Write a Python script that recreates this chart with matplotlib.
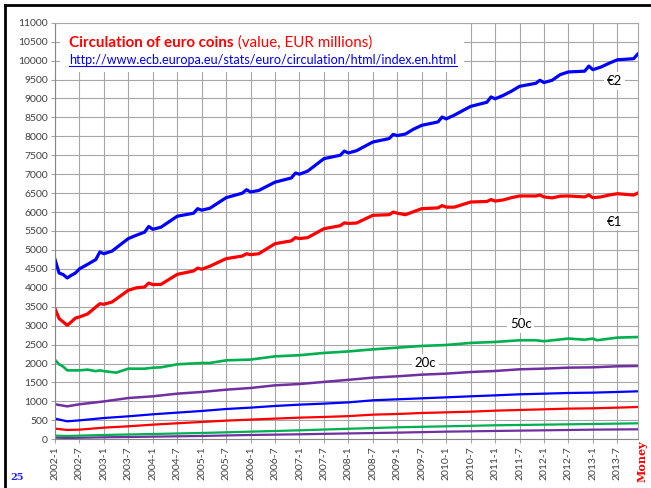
import matplotlib.pyplot as plt
from matplotlib.lines import Line2D
from matplotlib.patches import Rectangle

# =========================
# Data (EUR millions)
# x = months since 2002-1
# =========================
x_big = [0, 1, 2, 3, 4, 5, 6, 8, 10, 11, 12, 14, 18, 20, 22, 23, 24, 26,
         30, 34, 35, 36, 38, 42, 46, 47, 48, 50, 54, 58, 59, 60, 62, 66,
         70, 71, 72, 74, 78, 82, 83, 84, 86, 88, 90, 94, 95, 96, 98, 102,
         106, 107, 108, 110, 112, 114, 118, 119, 120, 122, 124, 126, 130,
         131, 132, 134, 136, 138, 142, 143]

eur2 = [4750, 4390, 4350, 4260, 4330, 4390, 4500, 4620, 4745, 4945, 4900,
        4970, 5300, 5390, 5470, 5620, 5545, 5600, 5890, 5970, 6090, 6050,
        6100, 6380, 6500, 6590, 6530, 6570, 6790, 6900, 7030, 7000, 7080,
        7410, 7500, 7610, 7560, 7620, 7850, 7940, 8050, 8020, 8060, 8190,
        8290, 8380, 8510, 8460, 8560, 8790, 8900, 9040, 8990, 9080, 9190,
        9320, 9400, 9480, 9420, 9480, 9630, 9700, 9720, 9855, 9760, 9830,
        9930, 10020, 10050, 10170]

eur1 = [3450, 3190, 3100, 3010, 3100, 3200, 3230, 3310, 3490, 3580, 3565,
        3625, 3935, 4000, 4020, 4125, 4085, 4090, 4355, 4445, 4520, 4490,
        4570, 4770, 4840, 4900, 4875, 4900, 5165, 5240, 5325, 5300, 5325,
        5560, 5640, 5715, 5700, 5710, 5915, 5930, 6000, 5970, 5930, 6010,
        6090, 6110, 6170, 6130, 6130, 6265, 6280, 6330, 6290, 6320, 6380,
        6425, 6425, 6450, 6400, 6375, 6420, 6425, 6400, 6450, 6380, 6400,
        6450, 6485, 6450, 6500]

x_50c = [0, 1, 2, 3, 6, 8, 10, 11, 12, 15, 18, 22, 24, 26, 30, 36, 38, 42,
         48, 54, 60, 66, 72, 78, 84, 90, 96, 102, 108, 114, 118, 120, 126,
         130, 132, 133, 138, 143]
c50 = [2100, 1980, 1920, 1820, 1820, 1840, 1800, 1820, 1800, 1760, 1865,
       1865, 1890, 1900, 1980, 2015, 2015, 2085, 2105, 2190, 2220, 2280,
       2320, 2375, 2420, 2465, 2490, 2545, 2570, 2615, 2615, 2590, 2660,
       2630, 2660, 2615, 2685, 2700]

x_small = [0, 3, 6, 12, 18, 24, 30, 36, 42, 48, 54, 60, 66, 72, 78, 84, 90,
           96, 102, 108, 114, 120, 126, 132, 138, 143]
c20 = [925, 870, 925, 1000, 1090, 1135, 1205, 1250, 1310, 1355, 1425, 1460,
       1515, 1570, 1628, 1663, 1707, 1734, 1777, 1804, 1848, 1866, 1892,
       1900, 1928, 1936]
c10 = [546, 475, 500, 562, 607, 660, 704, 748, 800, 836, 880, 915, 942, 975,
       1030, 1056, 1082, 1108, 1135, 1160, 1188, 1205, 1223, 1232, 1250, 1267]
c5 = [282, 246, 255, 308, 343, 387, 423, 458, 493, 520, 546, 572, 590, 612,
      651, 668, 695, 712, 730, 756, 774, 792, 810, 818, 836, 853]

x_tiny = [0, 3, 12, 24, 36, 48, 60, 72, 84, 96, 108, 120, 132, 143]
c2 = [97, 88, 114, 140, 167, 202, 237, 278, 317, 343, 370, 387, 405, 422]
c1 = [44, 35, 53, 70, 88, 114, 132, 155, 176, 202, 220, 237, 255, 264]

tick_labels = ["2002-1", "2002-7", "2003-1", "2003-7", "2004-1", "2004-7",
               "2005-1", "2005-7", "2006-1", "2006-7", "2007-1", "2007-7",
               "2008-1", "2008-7", "2009-1", "2009-7", "2010-1", "2010-7",
               "2011-1", "2011-7", "2012-1", "2012-7", "2013-1", "2013-7"]

BLUE = "#0000FF"
RED = "#FF0000"
GREEN = "#00B050"
PURPLE = "#7030A0"
GRID = "#A6A6A6"


def month_index(label):
    year, month = label.split("-")
    return (int(year) - 2002) * 12 + int(month) - 1


def main():
    plt.rcParams["font.family"] = ["Lato", "DejaVu Sans"]
    W, H = 651, 488
    fig = plt.figure(figsize=(W / 100, H / 100), dpi=100)
    left, right, top, bottom = 55, 637.7, 22.7, 439.3
    ax = fig.add_axes([left / W, 1 - bottom / H, (right - left) / W, (bottom - top) / H])

    # series, drawn small to large
    ax.plot(x_tiny, c1, color=PURPLE, lw=1.6)
    ax.plot(x_tiny, c2, color=GREEN, lw=1.6)
    ax.plot(x_small, c5, color=RED, lw=1.6)
    ax.plot(x_small, c10, color=BLUE, lw=1.6)
    ax.plot(x_small, c20, color=PURPLE, lw=1.8)
    ax.plot(x_50c, c50, color=GREEN, lw=1.9)
    ax.plot(x_big, eur1, color=RED, lw=2.3)
    ax.plot(x_big, eur2, color=BLUE, lw=2.3)

    ax.set_xlim(0, 143)
    ax.set_ylim(0, 11000)
    ax.set_yticks(range(0, 11001, 500))
    ax.set_xticks([month_index(t) for t in tick_labels])
    ax.set_xticklabels(tick_labels, rotation=90)
    ax.tick_params(axis="both", labelsize=7.5, colors="#404040", length=3,
                   width=0.8, pad=2)
    ax.tick_params(axis="both", color=GRID)
    ax.set_axisbelow(True)
    ax.grid(True, color=GRID, lw=0.8)
    for sp in ax.spines.values():
        sp.set_color(GRID)
        sp.set_linewidth(0.8)
    ax.spines["left"].set_color("#868686")
    ax.spines["bottom"].set_color("#868686")

    # white box behind the heading
    ax.add_patch(Rectangle((60 / W, 1 - 72 / H), 404 / W, 49 / H,
                           transform=fig.transFigure, facecolor="white",
                           edgecolor="none", zorder=1.5, clip_on=False))
    t1 = fig.text(69 / W, 1 - 47 / H, "Circulation of euro coins", color=RED,
                  fontsize=10.9, fontweight="bold", va="baseline", zorder=3)
    ax.annotate(" (value, EUR millions)", xy=(1, 0), xycoords=t1,
                va="bottom", ha="left", color=RED, fontsize=10.9, zorder=3,
                annotation_clip=False)
    fig.text(69 / W, 1 - 64 / H,
             "http://www.ecb.europa.eu/stats/euro/circulation/html/index.en.html",
             color=BLUE, fontsize=9.1, va="baseline", zorder=3)
    fig.add_artist(Line2D([69 / W, 457 / W], [1 - 66 / H, 1 - 66 / H],
                          color=BLUE, lw=0.8))

    # series labels
    box = dict(facecolor="white", edgecolor="none", pad=2)
    for txt, xm, yv in [("€2", 137.4, 9460), ("€1", 137.4, 5745),
                        ("50c", 114.3, 3044), ("20c", 90.9, 2022)]:
        ax.text(xm, yv, txt, ha="center", va="center", fontsize=9.5,
                color="black", bbox=box, zorder=4)

    # slide decorations
    fig.add_artist(Line2D([4.5 / W, 1], [1 - 5 / H, 1 - 5 / H], color="black", lw=2))
    fig.add_artist(Line2D([4.5 / W, 4.5 / W], [0, 1 - 5 / H], color="black", lw=2))
    fig.text(17.5 / W, 1 - 478 / H, "25", color="#1F1FFF", fontsize=7,
             fontweight="bold", family="DejaVu Serif", ha="center", va="center")
    fig.text(642 / W, 1 - 461 / H, "Money", color=RED, fontsize=8,
             fontweight="bold", family="DejaVu Serif", rotation=90,
             ha="center", va="center")

    fig.savefig("out.png", dpi=100)


if __name__ == "__main__":
    main()
